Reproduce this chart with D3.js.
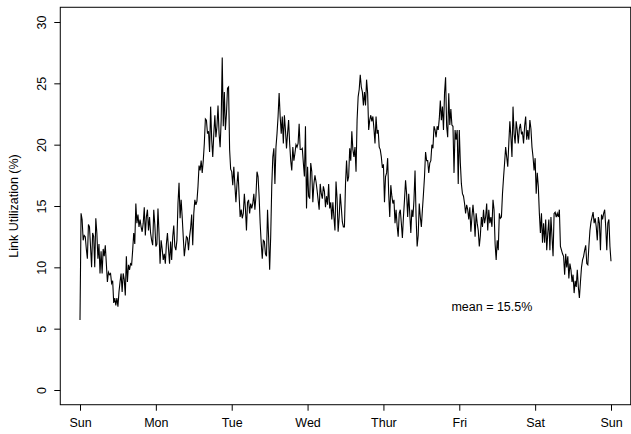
<!DOCTYPE html>
<html>
<head>
<meta charset="utf-8">
<script src="https://cdn.jsdelivr.net/npm/d3@7"></script>
<style>
  html, body { margin: 0; padding: 0; background: #fff; }
  svg { display: block; }
  text { font-family: "Liberation Sans", Arial, Helvetica, sans-serif; fill: #000; }
</style>
</head>
<body>
<svg id="chart" width="631" height="434"></svg>
<script>
// Weekly link utilization (%), one reading every 20 minutes (72 per day).
const dayLabels = ["Sun", "Mon", "Tue", "Wed", "Thur", "Fri", "Sat", "Sun"];
const yTickValues = [0, 5, 10, 15, 20, 25, 30];
const samplesPerDay = 72;
const meanLabel = "mean = 15.5%";

const utilSun = [5.7, 14.4, 13.9, 12.2, 12.6, 12.5, 11.5, 10.7, 13.5, 13.3,
  11.7, 10.0, 12.8, 12.5, 10.0, 14.0, 12.8, 10.7, 11.9, 9.5,
  11.3, 9.5, 11.5, 10.9, 11.8, 10.3, 8.8, 9.6, 9.4, 9.5,
  8.7, 8.9, 7.1, 7.5, 6.9, 7.5, 6.8, 8.0, 8.8, 9.5,
  8.0, 9.5, 9.0, 7.7, 10.9, 8.8, 10.2, 9.8, 10.3, 10.2,
  11.4, 12.8, 11.9, 15.2, 13.6, 14.3, 13.3, 13.9, 13.3, 12.9,
  13.6, 14.9, 12.6, 14.1, 14.7, 13.0, 14.1, 12.8, 12.2, 11.8,
  14.7, 13.5];
const utilMon = [11.7, 11.9, 14.8, 12.8, 10.3, 12.2, 11.5, 10.6, 11.1, 10.3,
  11.9, 12.8, 11.5, 10.3, 12.1, 10.6, 12.5, 13.4, 11.7, 11.4,
  12.2, 15.2, 16.9, 14.0, 15.5, 14.1, 12.5, 10.9, 11.7, 12.5,
  12.4, 11.4, 12.5, 13.2, 14.3, 11.8, 14.4, 15.5, 15.1, 15.4,
  16.6, 18.3, 17.9, 18.7, 17.7, 18.7, 20.1, 22.1, 22.0, 20.9,
  21.1, 19.4, 23.1, 20.4, 19.0, 20.9, 22.4, 20.6, 21.5, 23.2,
  20.9, 19.8, 22.0, 27.1, 21.5, 24.3, 21.2, 22.5, 24.6, 24.7,
  19.6, 18.0];
const utilTue = [17.8, 16.7, 18.2, 16.7, 15.3, 16.8, 17.8, 15.9, 14.1, 14.7,
  14.0, 14.4, 16.0, 14.8, 13.0, 15.3, 15.5, 14.4, 15.2, 14.8,
  15.2, 16.0, 14.7, 15.8, 17.8, 17.4, 15.8, 13.6, 12.0, 10.7,
  12.2, 12.1, 11.1, 10.9, 14.7, 12.5, 9.8, 12.5, 16.6, 19.0,
  19.7, 16.8, 19.8, 20.9, 22.3, 24.2, 22.3, 20.9, 22.3, 20.1,
  22.4, 21.2, 19.7, 20.9, 22.0, 20.1, 18.7, 17.9, 19.8, 18.7,
  19.3, 20.0, 19.8, 20.1, 21.7, 19.6, 19.6, 19.7, 18.5, 17.4,
  21.5, 14.8];
const utilWed = [18.2, 15.8, 15.6, 18.5, 17.8, 15.3, 16.8, 17.5, 17.0, 16.3,
  15.5, 14.7, 16.8, 16.0, 15.6, 16.6, 16.2, 14.9, 15.8, 15.1,
  16.8, 14.8, 15.3, 13.9, 15.3, 14.1, 13.0, 17.0, 15.6, 12.9,
  14.1, 16.0, 14.9, 13.7, 13.3, 13.3, 16.8, 18.7, 17.0, 17.4,
  19.7, 18.7, 21.1, 19.6, 19.0, 19.8, 17.8, 22.0, 23.9, 24.5,
  25.7, 24.7, 24.3, 23.2, 24.3, 23.2, 25.3, 24.2, 21.2, 22.0,
  22.4, 21.9, 22.3, 21.3, 20.1, 22.3, 20.9, 21.2, 19.8, 19.6,
  19.0, 18.1];
const utilThu = [18.4, 15.3, 17.4, 17.7, 18.9, 16.0, 14.1, 16.7, 15.8, 15.2,
  15.5, 13.6, 14.7, 13.4, 12.5, 14.4, 14.7, 13.6, 12.4, 14.1,
  15.5, 17.1, 16.0, 14.1, 16.0, 14.4, 12.8, 14.7, 14.1, 15.5,
  17.9, 14.1, 11.7, 12.6, 15.2, 14.1, 13.3, 14.7, 16.0, 17.4,
  19.4, 18.7, 18.7, 17.7, 18.5, 18.7, 20.0, 19.7, 21.5, 21.2,
  20.6, 21.5, 21.2, 22.1, 23.6, 22.0, 23.1, 21.2, 24.2, 25.5,
  21.5, 20.6, 24.2, 21.6, 22.9, 21.6, 21.5, 17.7, 21.2, 20.4,
  21.2, 16.8];
const utilFri = [21.2, 18.5, 16.8, 16.0, 15.8, 15.2, 14.4, 15.1, 14.7, 13.9,
  14.9, 12.9, 14.1, 15.1, 14.1, 12.5, 14.4, 13.6, 13.0, 11.7,
  12.6, 14.1, 13.3, 14.7, 13.6, 14.1, 15.2, 13.0, 14.7, 13.6,
  14.1, 13.3, 15.5, 14.7, 11.9, 10.6, 12.2, 11.4, 14.4, 14.0,
  14.1, 16.0, 17.3, 18.5, 19.8, 19.0, 18.2, 20.1, 21.9, 20.6,
  19.0, 23.1, 20.9, 20.1, 21.9, 21.2, 20.1, 21.3, 21.7, 20.9,
  21.0, 20.1, 21.5, 22.3, 20.4, 21.2, 20.4, 22.0, 21.3, 19.8,
  19.0, 17.9];
// Saturday carries one extra reading: the closing Sunday midnight sample.
const utilSat = [18.9, 16.0, 17.7, 16.6, 14.4, 12.8, 14.4, 12.0, 13.6, 12.0,
  13.9, 11.4, 12.8, 13.9, 11.4, 14.1, 12.5, 10.9, 14.4, 14.5,
  14.1, 14.4, 14.1, 14.7, 11.7, 11.4, 11.1, 10.9, 9.4, 11.1,
  10.0, 10.9, 9.1, 10.3, 9.8, 8.8, 9.4, 7.9, 8.9, 8.4,
  9.8, 8.4, 7.5, 8.8, 10.0, 10.6, 10.9, 11.4, 11.8, 10.3,
  10.2, 11.7, 13.0, 13.7, 14.1, 14.5, 13.6, 14.0, 13.3, 12.2,
  14.1, 13.6, 11.4, 14.3, 13.9, 14.4, 14.7, 13.3, 11.4, 13.6,
  13.9, 11.7, 10.5];

const utilization = [].concat(utilSun, utilMon, utilTue, utilWed, utilThu, utilFri, utilSat);
const points = utilization.map((v, i) => ({ t: i / samplesPerDay, v }));

const svg = d3.select("#chart");

// Scales: time in days since Sunday 00:00, utilization in percent.
const x = d3.scaleLinear().domain([0, 7]).range([80, 611]);
const y = d3.scaleLinear().domain([0, 30]).range([390, 22]);

// Plot frame, padded around the data range like a base-graphics plot.
const padX = 0.26, padY = 1.2;
const frameLeft = x(-padX), frameRight = x(7 + padX);
const frameTop = y(30 + padY), frameBottom = y(-padY);

svg.append("rect")
  .attr("x", frameLeft).attr("y", frameTop)
  .attr("width", frameRight - frameLeft).attr("height", frameBottom - frameTop)
  .attr("fill", "none").attr("stroke", "#000").attr("stroke-width", 1);

const fontStack = "'Liberation Sans', Arial, sans-serif";
const fontSize = "12.5px";

// Y axis with rotated tick labels.
const yAxis = svg.append("g")
  .attr("transform", `translate(${frameLeft},0)`)
  .call(d3.axisLeft(y).tickValues(yTickValues).tickSize(6).tickPadding(0));
yAxis.select(".domain").remove();
yAxis.selectAll(".tick line").attr("stroke", "#000");
yAxis.selectAll(".tick text")
  .attr("transform", "rotate(-90)")
  .attr("x", 0).attr("y", -14).attr("dy", 0)
  .attr("text-anchor", "middle")
  .style("font-size", fontSize)
  .style("font-family", fontStack)
  .attr("fill", "#000");

// X axis: one tick per day boundary.
const xAxis = svg.append("g")
  .attr("transform", `translate(0,${frameBottom})`)
  .call(d3.axisBottom(x).tickValues(d3.range(0, 8)).tickSize(6).tickPadding(0)
    .tickFormat(i => dayLabels[i]));
xAxis.select(".domain").remove();
xAxis.selectAll(".tick line").attr("stroke", "#000");
xAxis.selectAll(".tick text")
  .attr("y", 22).attr("dy", 0)
  .style("font-size", fontSize)
  .style("font-family", fontStack)
  .attr("fill", "#000");

// Axis title.
svg.append("text")
  .attr("transform", `translate(18,${y(15)}) rotate(-90)`)
  .attr("text-anchor", "middle")
  .style("font-size", fontSize)
  .text("Link Utilization (%)");

// Utilization trace.
const line = d3.line().x(d => x(d.t)).y(d => y(d.v));
svg.append("path")
  .datum(points)
  .attr("d", line)
  .attr("fill", "none")
  .attr("stroke", "#000")
  .attr("stroke-width", 1.1)
  .attr("stroke-linejoin", "miter");

// Weekly mean annotation.
svg.append("text")
  .attr("x", x(5.43)).attr("y", y(6.4))
  .attr("text-anchor", "middle")
  .style("font-size", fontSize)
  .text(meanLabel);
</script>
</body>
</html>
